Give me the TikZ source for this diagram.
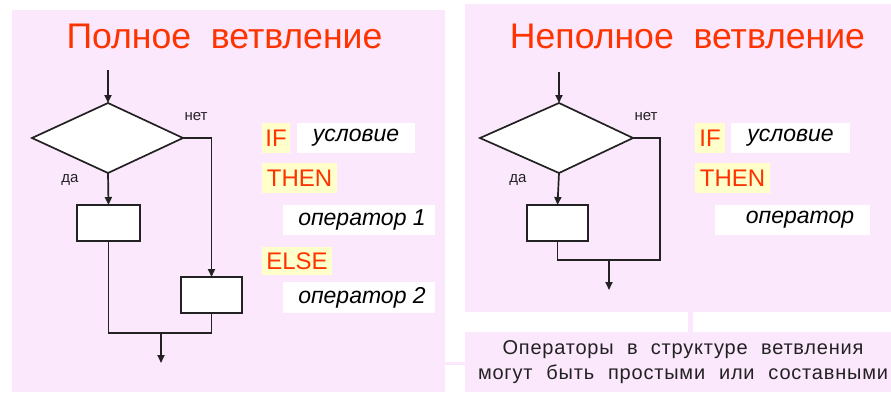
\documentclass[tikz,border=0pt]{standalone}
\usepackage{fontspec}
\setmainfont{Liberation Sans}
\newfontfamily\notefont[LetterSpace=4]{Liberation Sans}
\usetikzlibrary{arrows.meta}
\definecolor{bgpink}{RGB}{252,232,252}
\definecolor{hlyel}{RGB}{255,255,204}
\definecolor{titred}{RGB}{255,51,0}
\definecolor{lin}{RGB}{34,34,34}
\tikzset{
  every node/.style={inner sep=0pt, outer sep=0pt},
  ln/.style={draw=lin, line width=1.7pt},
  arr/.style={ln, -{Triangle[length=8pt,width=7pt]}},
  dia/.style={ln, fill=white},
  blk/.style={ln, fill=white},
  ttl/.style={text=titred, font=\fontsize{35.6}{38}\selectfont},
  kw/.style={fill=hlyel, text=titred, font=\fontsize{24}{26}\selectfont, anchor=west},
  wb/.style={fill=white, text=black, font=\fontsize{23}{26}\selectfont\itshape, anchor=west},
  lbl/.style={font=\fontsize{15}{16}\selectfont, text=lin},
}
\begin{document}
\begin{tikzpicture}[x=1pt,y=-1pt]
\useasboundingbox (0,0) rectangle (891,392);
% backgrounds
\fill[bgpink] (12,10) rectangle (445,392);
\fill[bgpink] (445,362) rectangle (465,365);
\fill[bgpink] (465,4) rectangle (891,312);
\fill[bgpink] (688,312) rectangle (693,332);
\fill[bgpink] (465,332) rectangle (891,392);

% titles
\node[ttl] (t1) at (224.5,36) {Полное\ \ ветвление};
\node[ttl] (t2) at (687.5,36) {Неполное\ \ ветвление};

% ---------- left flowchart ----------
\coordinate (lin) at (108,70);
\path[dia] (32,138) coordinate (dl) -- (108,103) coordinate (dt) -- (183,138) coordinate (dr) -- (108,173) coordinate (db) -- cycle;
\node[blk, minimum width=63pt, minimum height=36pt] (b1) at (108.5,223) {};
\node[blk, minimum width=61pt, minimum height=36pt] (b2) at (211.5,295) {};
\coordinate (lout) at (161,363);
\coordinate (lm) at (161,333);
\draw[arr] (lin) -- (dt);
\draw[arr] (db) -- (b1.north);
\draw[arr] (dr) -| (b2.north);
\draw[ln] (b1.south) |- (lm) -| (b2.south);
\draw[arr] (lm) -- (lout);
\node[lbl] (n1) at (196,117) {нет};
\node[lbl] (y1) at (70,180) {да};

\node[kw, minimum height=30pt, minimum width=28pt] (if1) at (262,138) {IF};
\node[wb, minimum height=30pt, minimum width=118pt, align=center] (c1) at (297,138) {условие};
\node[kw, minimum height=30pt, minimum width=75pt] (th1) at (262,178) {THEN};
\node[wb, minimum height=30pt, minimum width=152pt] (o1) at (283,220) {\hspace{6pt}оператор 1};
\node[kw, minimum height=28pt, minimum width=70pt] (el1) at (262,261) {ELSE};
\node[wb, minimum height=31pt, minimum width=152pt] (o2) at (283,297.5) {\hspace{6pt}оператор 2};

% ---------- right flowchart ----------
\coordinate (rin) at (559,72);
\path[dia] (480,138) coordinate (rl) -- (559,103) coordinate (rt) -- (633,138) coordinate (rr) -- (559,173) coordinate (rb) -- cycle;
\node[blk, minimum width=61pt, minimum height=36pt] (b3) at (557.5,223) {};
\coordinate (rm) at (609,260);
\coordinate (rcorner) at (660,260);
\coordinate (rout) at (609,290);
\draw[arr] (rin) -- (rt);
\draw[arr] (rb) -- (b3.north);
\draw[ln] (rr) -| (rcorner) -- (rm);
\draw[ln] (b3.south) |- (rm);
\draw[arr] (rm) -- (rout);
\node[lbl] (n2) at (646,117) {нет};
\node[lbl] (y2) at (518,180) {да};

\node[kw, minimum height=30pt, minimum width=30pt] (if2) at (695,138) {IF};
\node[wb, minimum height=30pt, minimum width=119pt, align=center] (c2) at (731,138) {условие};
\node[kw, minimum height=30pt, minimum width=75pt] (th2) at (695,178) {THEN};
\node[wb, minimum height=30pt, minimum width=155pt] (o3) at (715,220) {\hspace{15pt}оператор};

% bottom note
\node[font=\notefont\fontsize{20}{25}\selectfont, text=lin, align=center] (note) at (683,362)
  {\makebox[361pt][s]{Операторы в структуре ветвления}\\
   \makebox[410pt][s]{могут быть простыми или составными}};
\end{tikzpicture}
\end{document}
